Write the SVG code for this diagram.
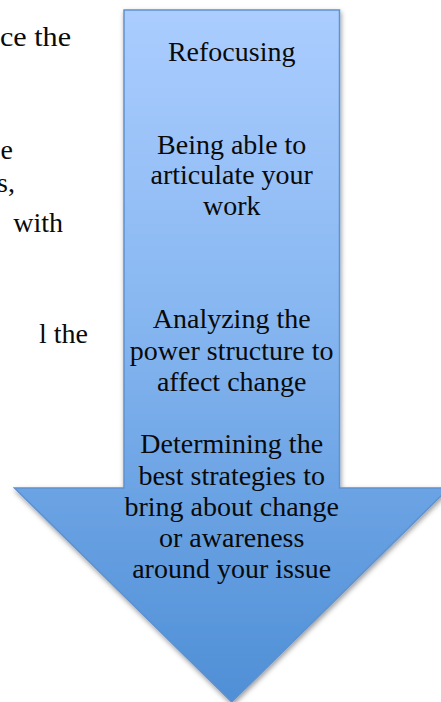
<svg xmlns="http://www.w3.org/2000/svg" width="441" height="702" viewBox="0 0 441 702">
  <style>
    text { font-family: "Liberation Serif", "Times New Roman", serif; font-size: 28px; fill: #0a0a0a; }
    .c { text-anchor: middle; }
    .e { text-anchor: end; }
  </style>
  <defs>
    <linearGradient id="fillGrad" gradientUnits="userSpaceOnUse" x1="0" y1="10" x2="0" y2="702">
      <stop offset="0" stop-color="#abcdff"/>
      <stop offset="0.45" stop-color="#86b6f0"/>
      <stop offset="0.7" stop-color="#6ba3e4"/>
      <stop offset="1" stop-color="#4f8fd6"/>
    </linearGradient>
    <filter id="shadow" x="-10%" y="-10%" width="120%" height="120%">
      <feDropShadow dx="1" dy="2.5" stdDeviation="2.5" flood-color="#000" flood-opacity="0.4"/>
    </filter>
  </defs>

  <g id="background-text">
    <text x="0" y="46" textLength="71" lengthAdjust="spacingAndGlyphs">ce the</text>
    <text class="e" x="13" y="159">e</text>
    <text class="e" x="15" y="192">s,</text>
    <text class="e" x="63" y="232">with</text>
    <text class="e" x="88" y="343">l the</text>
  </g>

  <g id="arrow">
    <path d="M124,10 L339.5,10 L339.5,488 L449,488 L231.7,702 L14.5,488 L124,488 Z"
          fill="url(#fillGrad)" stroke="#5f91cf" stroke-width="1.5" stroke-linejoin="miter" filter="url(#shadow)"/>
  </g>

  <g id="step-refocusing">
    <text class="c" x="231.7" y="61">Refocusing</text>
  </g>
  <g id="step-articulate">
    <text class="c" x="231.7" y="154">Being able to</text>
    <text class="c" x="231.7" y="184">articulate your</text>
    <text class="c" x="231.7" y="215">work</text>
  </g>
  <g id="step-analyzing">
    <text class="c" x="231.7" y="328">Analyzing the</text>
    <text class="c" x="231.7" y="360">power structure to</text>
    <text class="c" x="231.7" y="391">affect change</text>
  </g>
  <g id="step-strategies">
    <text class="c" x="231.7" y="453">Determining the</text>
    <text class="c" x="231.7" y="485">best strategies to</text>
    <text class="c" x="231.7" y="516">bring about change</text>
    <text class="c" x="231.7" y="547">or awareness</text>
    <text class="c" x="231.7" y="578">around your issue</text>
  </g>
  <g id="connectors"/>
</svg>
